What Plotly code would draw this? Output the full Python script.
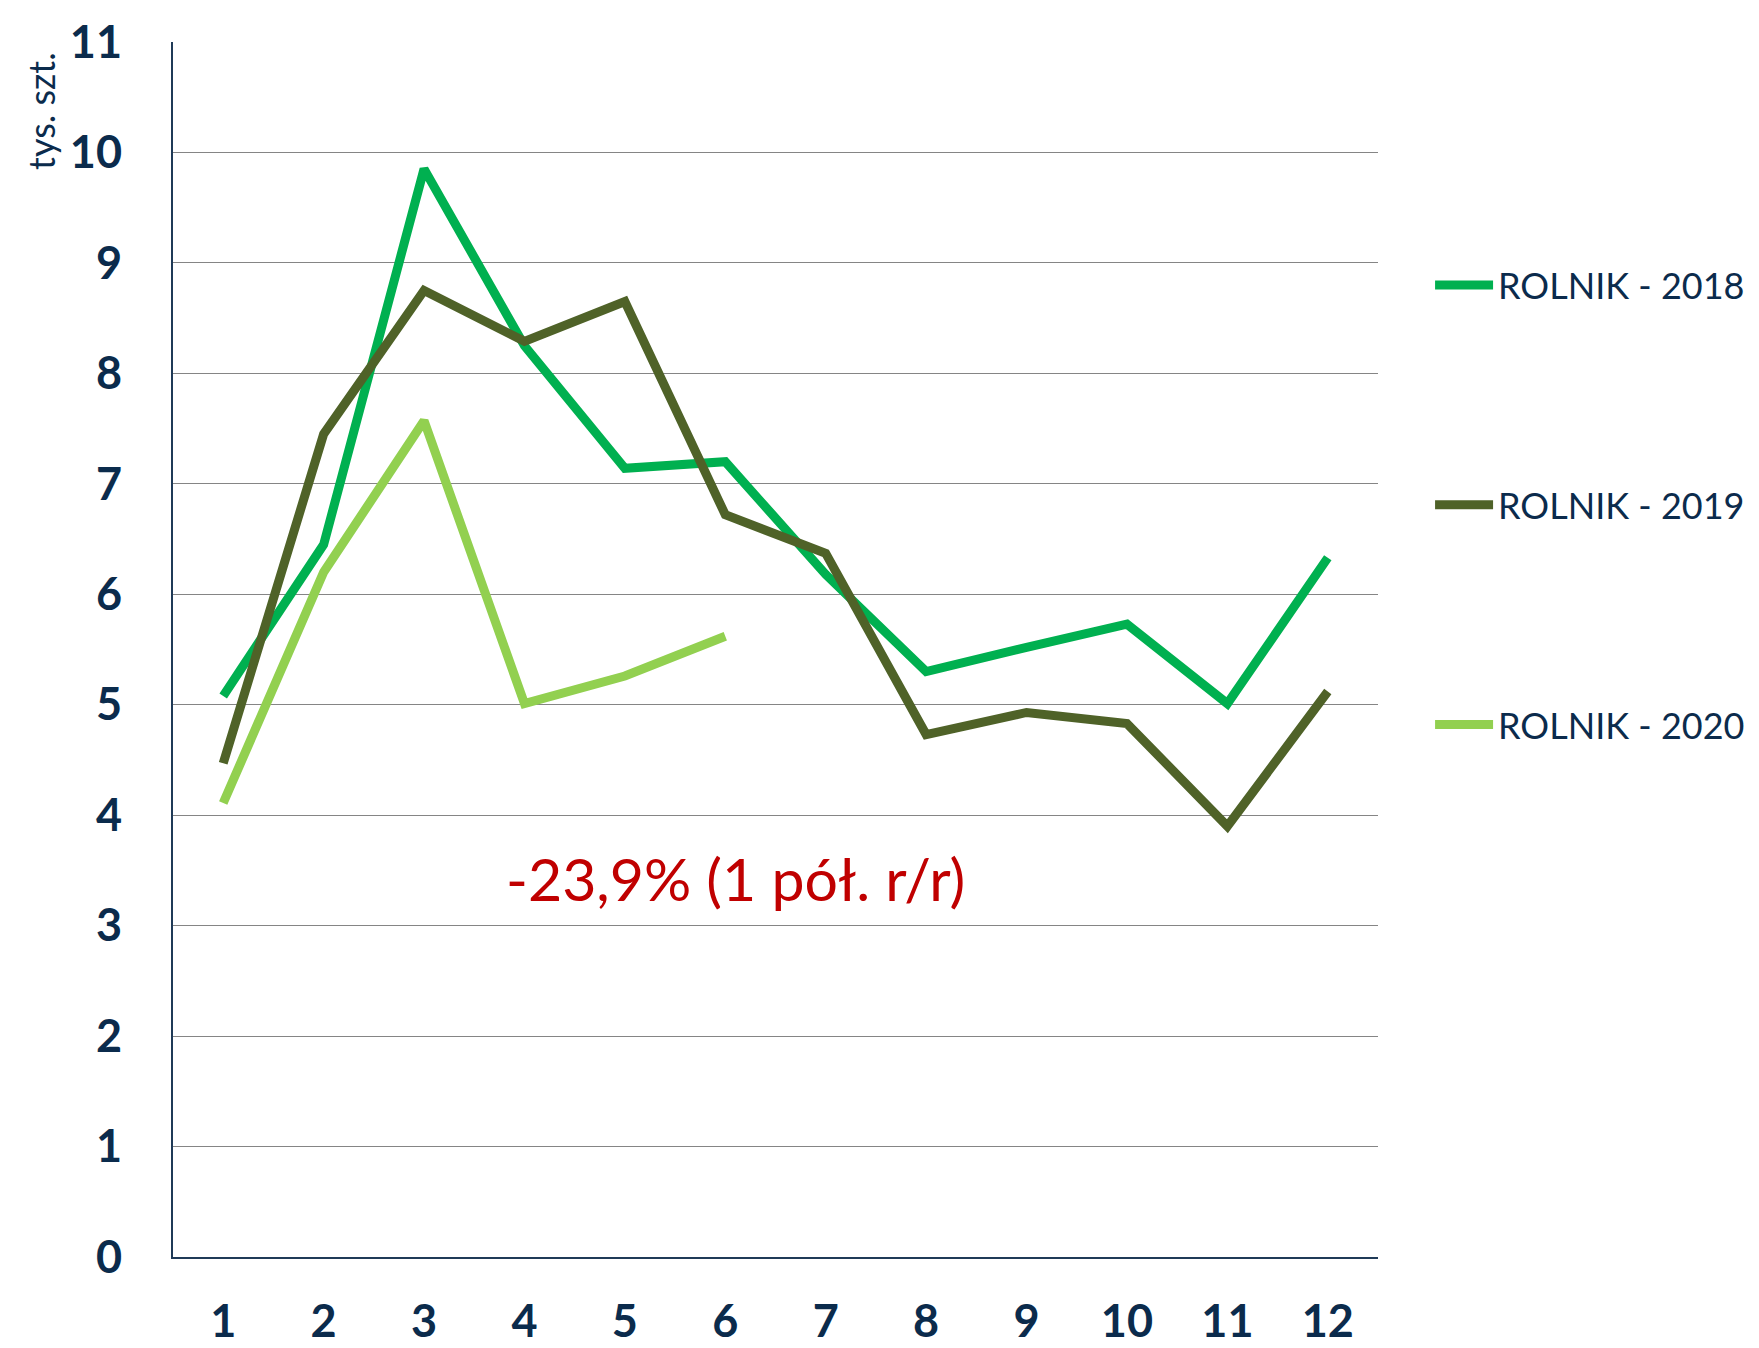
import plotly.graph_objects as go

# Monthly registrations, thousands of units
months = list(range(1, 13))
rolnik_2018 = [5.08, 6.45, 9.85, 8.25, 7.14, 7.20, 6.18, 5.30, 5.52, 5.73, 5.01, 6.33]
rolnik_2019 = [4.47, 7.45, 8.75, 8.29, 8.65, 6.72, 6.37, 4.73, 4.93, 4.83, 3.90, 5.12]
rolnik_2020 = [4.11, 6.20, 7.57, 5.01, 5.26, 5.62]

series_names = ["ROLNIK - 2018", "ROLNIK - 2019", "ROLNIK - 2020"]
series_colors = ["#00b050", "#4f6228", "#92d050"]

y_ticks = list(range(0, 12))
note_text = "-23,9% (1 pół. r/r)"

NAVY = "#0b2b4c"
FONT = "Lato"

fig = go.Figure()
for name, vals, color in zip(series_names, [rolnik_2018, rolnik_2019, rolnik_2020], series_colors):
    fig.add_trace(go.Scatter(
        x=months[:len(vals)], y=vals, name=name, mode="lines",
        line=dict(color=color, width=9), legendgroup=name,
    ))

fig.add_annotation(
    x=6.1, y=3.43, xref="x", yref="y", text=note_text, showarrow=False,
    font=dict(family=FONT, size=59, color="#c00000"), xanchor="center", yanchor="middle",
)

# unit label, placed just left of the tick labels at the top of the axis
fig.add_annotation(
    x=(41 - 173) / 1205, y=1 - (50 - 42) / 1215, xref="paper", yref="paper",
    text="tys. szt.", showarrow=False, textangle=-90,
    font=dict(family=FONT, size=36, color=NAVY),
    xanchor="center", yanchor="top",
)

fig.update_layout(
    width=1759, height=1348,
    margin=dict(l=173, r=381, t=42, b=91, autoexpand=False),
    paper_bgcolor="white", plot_bgcolor="white",
    showlegend=True,
    legend=dict(
        xref="container", yref="container",
        x=0.813, y=0.8108, xanchor="left", yanchor="top",
        font=dict(family=FONT, size=36, color=NAVY),
        tracegroupgap=170, itemwidth=58, bgcolor="rgba(0,0,0,0)",
    ),
    xaxis=dict(
        range=[0.5, 12.5], tickvals=months, ticktext=[str(m) for m in months],
        showgrid=False, zeroline=False, showline=True, linecolor="#1f3a57", linewidth=2,
        tickfont=dict(family=FONT, size=45, color=NAVY, weight="bold"),
        ticks="", ticklabelstandoff=24, automargin=False,
    ),
    yaxis=dict(
        range=[0, 11], tickvals=y_ticks, ticktext=[str(v) for v in y_ticks],
        showgrid=True, gridcolor="#858585", gridwidth=1.4, zeroline=False,
        showline=True, linecolor="#1f3a57", linewidth=2,
        tickfont=dict(family=FONT, size=45, color=NAVY, weight="bold"),
        ticks="", ticklabelstandoff=40, automargin=False,
    ),
)

fig.write_html("out.html")
